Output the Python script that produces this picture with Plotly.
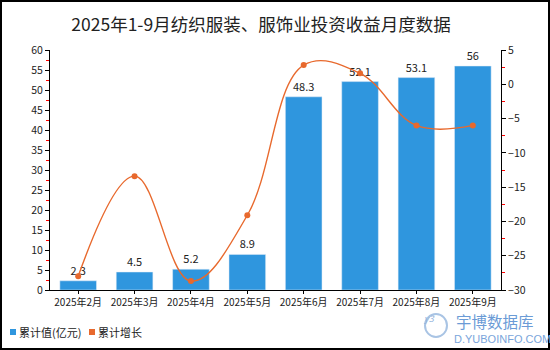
import plotly.graph_objects as go

categories = ["2025年2月", "2025年3月", "2025年4月", "2025年5月",
              "2025年6月", "2025年7月", "2025年8月", "2025年9月"]
cum_value = [2.3, 4.5, 5.2, 8.9, 48.3, 52.1, 53.1, 56]
cum_growth = [-28.0, -13.4, -28.7, -19.1, 2.8, 1.6, -6.0, -6.0]
value_labels = ["2.3", "4.5", "5.2", "8.9", "48.3", "52.1", "53.1", "56"]
legend_names = ["累计值(亿元)", "累计增长"]

BAR = "#2F96DE"
LINE = "#E8692D"
FONT = "Noto Sans CJK SC, Noto Sans, sans-serif"

W, H = 550, 350
L, R, T, B = 50, 49, 50, 60
pw, ph = W - L - R, H - T - B

def px(x):
    return (x - L) / pw

def py(y):
    return (H - B - y) / ph

fig = go.Figure()
fig.add_trace(go.Bar(
    x=categories, y=cum_value, name=legend_names[0], marker_color=BAR,
    width=0.65, text=value_labels, textposition="outside",
    textfont=dict(size=11, color="#222"), cliponaxis=False, showlegend=False,
))
fig.add_trace(go.Scatter(
    x=categories, y=cum_growth, yaxis="y2", mode="lines+markers",
    line=dict(color=LINE, width=1.4, shape="spline", smoothing=1.1),
    marker=dict(color=LINE, size=6), showlegend=False, name=legend_names[1],
))

fig.update_layout(
    width=W, height=H,
    margin=dict(l=L, r=R, t=T, b=B, autoexpand=False),
    paper_bgcolor="white", plot_bgcolor="white",
    font=dict(family=FONT, size=11, color="#222"),
    title=dict(text="2025年1-9月纺织服装、服饰业投资收益月度数据",
               xref="paper", x=px(261), xanchor="center",
               y=1 - 25 / H, yanchor="middle",
               font=dict(size=17.5, color="#222", family=FONT)),
    showlegend=False,
    xaxis=dict(showline=True, linecolor="black", linewidth=1, ticks="outside",
               ticklen=3, tickcolor="black", tickfont=dict(size=10),
               showgrid=False, automargin=False),
    yaxis=dict(range=[0, 60], dtick=5, showline=True, linecolor="black",
               linewidth=1, ticks="outside", ticklen=4, tickcolor="black",
               showgrid=False, zeroline=False, tickfont=dict(size=10.5),
               automargin=False,
               minor=dict(dtick=2.5, ticks="outside", ticklen=3,
                          tickcolor="red", showgrid=False)),
    yaxis2=dict(range=[-30, 5], dtick=5, overlaying="y", side="right",
                showline=True, linecolor="black", linewidth=1,
                ticks="outside", ticklen=4, tickcolor="black",
                showgrid=False, zeroline=False, tickfont=dict(size=10.5),
                automargin=False,
                minor=dict(dtick=2.5, ticks="outside", ticklen=3,
                           tickcolor="red", showgrid=False)),
)

# manual legend
for x0, color, name in [(10, BAR, legend_names[0]), (89, LINE, legend_names[1])]:
    fig.add_shape(type="rect", xref="paper", yref="paper",
                  x0=px(x0), x1=px(x0 + 6), y0=py(335), y1=py(329),
                  line=dict(width=0), fillcolor=color)
    fig.add_annotation(text=name, xref="paper", yref="paper",
                       x=px(x0 + 8), y=py(332), xanchor="left", yanchor="middle",
                       showarrow=False, borderpad=0,
                       font=dict(size=11, color="#222"))

# outer border
fig.add_shape(type="rect", xref="paper", yref="paper",
              x0=px(1), x1=px(549), y0=py(349), y1=py(1),
              line=dict(color="black", width=2), fillcolor="rgba(0,0,0,0)")

# watermark
fig.add_shape(type="circle", xref="paper", yref="paper",
              x0=px(425), x1=px(447), y0=py(337), y1=py(314),
              line=dict(color="#A9C4E4", width=2), fillcolor="rgba(0,0,0,0)")
fig.add_annotation(text="<i>y3</i>", xref="paper", yref="paper",
                   x=px(436), y=py(325.5), showarrow=False, borderpad=0,
                   font=dict(size=9, color="#8FB0DA"))
fig.add_annotation(text="宇博数据库", xref="paper", yref="paper",
                   x=px(455), y=py(321), xanchor="left", yanchor="middle",
                   showarrow=False, borderpad=0,
                   font=dict(size=15.5, color="#6B9BD6"))
fig.add_annotation(text="D.YUBOINFO.COM", xref="paper", yref="paper",
                   x=px(453), y=py(338.5), xanchor="left", yanchor="middle",
                   showarrow=False, borderpad=0,
                   font=dict(size=11, color="#7AA5DB",
                             family="Liberation Sans, Arial, sans-serif"))

fig.write_html("out.html")
